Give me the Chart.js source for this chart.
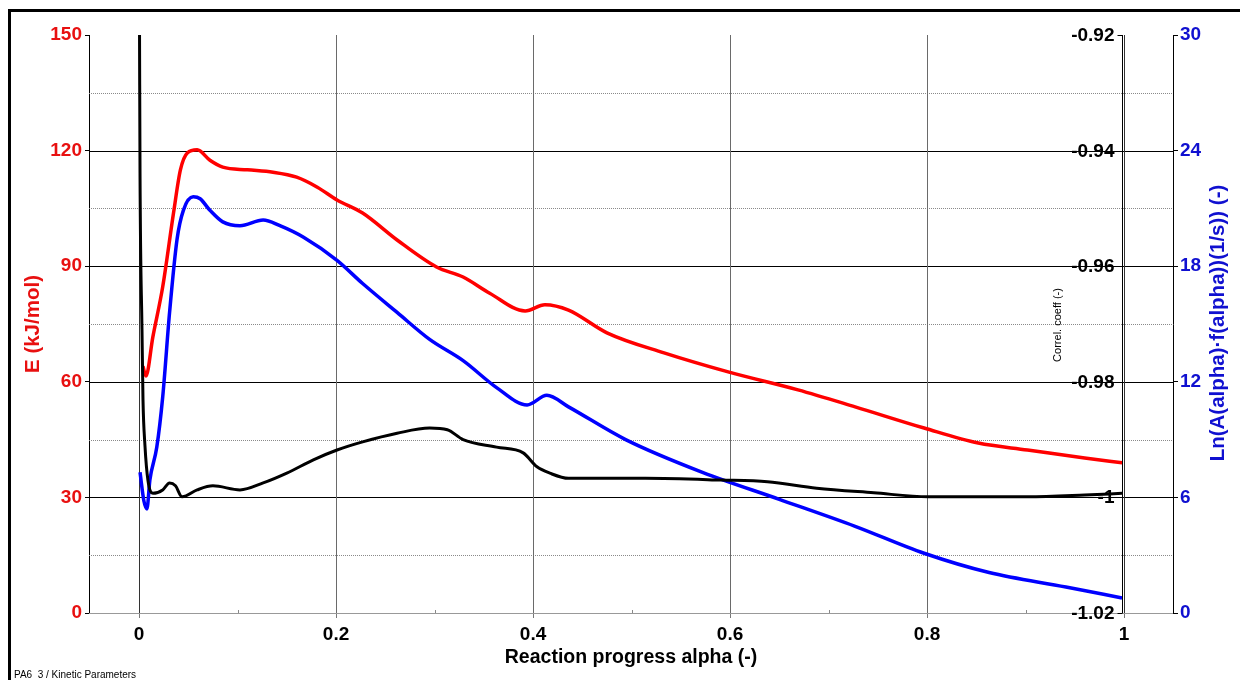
<!DOCTYPE html>
<html>
<head>
<meta charset="utf-8">
<script src="https://cdn.jsdelivr.net/npm/chart.js@4.4.1/dist/chart.umd.min.js"></script>
<style>
  html, body { margin: 0; padding: 0; background: #fff; }
  #wrap { width: 1240px; height: 680px; }
</style>
</head>
<body>
<div id="wrap"><canvas id="kinChart" width="1240" height="680"></canvas></div>
<script>
// values (alpha = reaction progress)
const eAlpha = [0.004, 0.007, 0.014, 0.024, 0.035, 0.042, 0.049, 0.059, 0.072, 0.085, 0.11, 0.136, 0.16, 0.181, 0.201, 0.227, 0.262, 0.302, 0.329, 0.356, 0.392, 0.412, 0.436, 0.475, 0.533, 0.599, 0.669, 0.727, 0.797, 0.852, 0.902, 0.96, 0.998];
const eValues = [64, 61.5, 71.6, 84.6, 103.8, 115, 119.4, 120.2, 117.5, 115.7, 115, 114.4, 113.1, 110.5, 107.2, 103.8, 96.8, 89.8, 87.2, 83, 78.4, 80, 78.6, 72.7, 67.5, 62.5, 57.9, 53.5, 48, 44.1, 42.3, 40.2, 39];

const lnAlpha = [0.001, 0.005, 0.008, 0.011, 0.018, 0.024, 0.031, 0.0386, 0.045, 0.055, 0.062, 0.072, 0.085, 0.1025, 0.126, 0.143, 0.167, 0.201, 0.227, 0.262, 0.295, 0.329, 0.363, 0.394, 0.414, 0.436, 0.494, 0.572, 0.65, 0.727, 0.797, 0.863, 0.941, 0.998];
const lnValues = [7.3, 5.8, 5.4, 6.9, 8.6, 11.2, 15.6, 19.4, 20.9, 21.6, 21.5, 20.9, 20.3, 20.1, 20.4, 20.1, 19.5, 18.3, 17.1, 15.6, 14.2, 13.1, 11.7, 10.8, 11.3, 10.7, 9.0, 7.3, 5.9, 4.5, 3.1, 2.1, 1.35, 0.78];

const corrAlpha = [0.0005, 0.001, 0.003, 0.004, 0.006, 0.009, 0.014, 0.024, 0.031, 0.037, 0.0437, 0.059, 0.075, 0.1025, 0.126, 0.15, 0.177, 0.201, 0.227, 0.262, 0.295, 0.313, 0.329, 0.363, 0.39, 0.404, 0.417, 0.436, 0.514, 0.591, 0.638, 0.688, 0.746, 0.801, 0.902, 0.96, 0.998];
const corrValues = [-0.92, -0.944, -0.971, -0.983, -0.991, -0.997, -0.9993, -0.9987, -0.9975, -0.998, -0.9999, -0.9987, -0.998, -0.9987, -0.9975, -0.9958, -0.9935, -0.9918, -0.9904, -0.9889, -0.988, -0.9883, -0.99, -0.9913, -0.9923, -0.9947, -0.9958, -0.9967, -0.9967, -0.997, -0.9973, -0.9984, -0.9992, -0.9999, -0.9999, -0.9996, -0.9993];

const xTicks = [0, 0.2, 0.4, 0.6, 0.8, 1];
const xMinorTicks = [0.1, 0.3, 0.5, 0.7, 0.9];
const eTicks = [0, 30, 60, 90, 120, 150];
const eHalfTicks = [15, 45, 75, 105, 135];
const lnTicks = [0, 6, 12, 18, 24, 30];
const corrTicks = [-1.02, -1, -0.98, -0.96, -0.94, -0.92];
const corrLabels = ['-1.02', '-1', '-0.98', '-0.96', '-0.94', '-0.92'];

const RED = '#ff0000', RED_TXT = '#e81010', BLUE = '#0000ff', BLUE_TXT = '#1010d0';
const boldFont = { family: 'Arial, "Liberation Sans"', size: 19, weight: 'bold' };

function toPoints(xs, ys) {
    return xs.map((x, i) => ({ x: x, y: ys[i] }));
}

function hline(ctx, x1, x2, y) {
    ctx.beginPath(); ctx.moveTo(x1, y); ctx.lineTo(x2, y); ctx.stroke();
}
function vline(ctx, x, y1, y2) {
    ctx.beginPath(); ctx.moveTo(x, y1); ctx.lineTo(x, y2); ctx.stroke();
}
function rotText(ctx, text, x, y, font, color) {
    ctx.save();
    ctx.translate(x, y);
    ctx.rotate(-Math.PI / 2);
    ctx.font = font;
    ctx.fillStyle = color;
    ctx.textAlign = 'center';
    ctx.textBaseline = 'middle';
    ctx.fillText(text, 0, 0);
    ctx.restore();
}

// grid, correlation axis, titles and frame
const kineticPlot = {
    id: 'kineticPlot',
    beforeDraw(chart) {
        const ctx = chart.ctx;
        ctx.save();
        ctx.fillStyle = '#fff';
        ctx.fillRect(0, 0, chart.width, chart.height);
        ctx.restore();
    },
    beforeDatasetsDraw(chart) {
        const { ctx, chartArea: a, scales } = chart;
        ctx.save();
        ctx.lineWidth = 1;
        // dotted half steps
        ctx.strokeStyle = '#8a8a8a';
        ctx.setLineDash([1, 1]);
        eHalfTicks.forEach(v => hline(ctx, a.left, a.right, Math.round(scales.yE.getPixelForValue(v)) + 0.5));
        ctx.setLineDash([]);
        // solid major lines
        ctx.strokeStyle = '#000';
        eTicks.filter(v => v > 0 && v < 150).forEach(v => hline(ctx, a.left, a.right, Math.round(scales.yE.getPixelForValue(v)) + 0.5));
        ctx.strokeStyle = '#999';
        hline(ctx, a.left, a.right, a.bottom + 0.5);
        // vertical lines
        xTicks.forEach(v => {
            ctx.strokeStyle = (v === 0 || v === 1) ? '#333' : '#6a6a6a';
            vline(ctx, Math.round(scales.x.getPixelForValue(v)) + 0.5, a.top, a.bottom);
        });
        ctx.strokeStyle = '#888';
        xMinorTicks.forEach(v => vline(ctx, Math.round(scales.x.getPixelForValue(v)) + 0.5, a.bottom, a.bottom - 3));
        ctx.restore();
    },
    afterDatasetsDraw(chart) {
        const { ctx, chartArea: a, scales } = chart;
        ctx.save();
        // correlation coefficient axis, sitting just left of alpha = 1
        const ax = Math.round(scales.x.getPixelForValue(1)) - 2 + 0.5;
        ctx.strokeStyle = '#000';
        ctx.lineWidth = 1;
        vline(ctx, ax, a.top, a.bottom);
        ctx.font = 'bold 19px Arial, "Liberation Sans"';
        ctx.fillStyle = '#000';
        ctx.textAlign = 'right';
        ctx.textBaseline = 'middle';
        corrTicks.forEach((v, i) => {
            const y = Math.round(scales.yC.getPixelForValue(v)) + 0.5;
            hline(ctx, ax - 5, ax, y);
            ctx.fillText(corrLabels[i], ax - 8, y);
        });
        ctx.restore();

        rotText(ctx, 'E (kJ/mol)', 33, 324, 'bold 20.5px Arial, "Liberation Sans"', RED_TXT);
        rotText(ctx, 'Ln(A(alpha)\u00b7f(alpha))(1/s)) (-)', 1218, 323, 'bold 20.5px Arial, "Liberation Sans"', BLUE_TXT);
        rotText(ctx, 'Correl. coeff (-)', 1058, 325, '11px Arial, "Liberation Sans"', '#000');

        ctx.save();
        ctx.fillStyle = '#000';
        ctx.font = 'bold 19.5px Arial, "Liberation Sans"';
        ctx.textAlign = 'center';
        ctx.textBaseline = 'middle';
        ctx.fillText('Reaction progress alpha (-)', (a.left + a.right) / 2, 658);
        ctx.font = '10px Arial, "Liberation Sans"';
        ctx.textAlign = 'left';
        ctx.fillText('PA6  3 / Kinetic Parameters', 14, 675);
        // outer frame
        ctx.strokeStyle = '#000';
        ctx.lineWidth = 3;
        ctx.beginPath();
        ctx.moveTo(9.5, chart.height);
        ctx.lineTo(9.5, 10.5);
        ctx.lineTo(chart.width, 10.5);
        ctx.stroke();
        ctx.restore();
    }
};

const ctx = document.getElementById('kinChart').getContext('2d');
const kinChart = new Chart(ctx, {
    type: 'line',
    data: {
        datasets: [{
            label: 'E (kJ/mol)',
            data: toPoints(eAlpha, eValues),
            yAxisID: 'yE',
            borderColor: RED,
            borderWidth: 3.5,
            order: 2
        }, {
            label: 'Ln(A(alpha)·f(alpha))(1/s))',
            data: toPoints(lnAlpha, lnValues),
            yAxisID: 'yL',
            borderColor: BLUE,
            borderWidth: 3.5,
            order: 1
        }, {
            label: 'Correl. coeff',
            data: toPoints(corrAlpha, corrValues),
            yAxisID: 'yC',
            borderColor: '#000',
            borderWidth: 3,
            order: 0
        }]
    },
    options: {
        responsive: false,
        animation: false,
        devicePixelRatio: 1,
        layout: { padding: { top: 35, left: 0, right: 0, bottom: 0 } },
        elements: {
            point: { radius: 0 },
            line: { cubicInterpolationMode: 'monotone', fill: false }
        },
        plugins: {
            legend: { display: false },
            tooltip: { enabled: false },
            title: { display: false }
        },
        scales: {
            x: {
                type: 'linear',
                min: -0.0508,
                max: 1.0497,
                afterBuildTicks: s => { s.ticks = xTicks.map(v => ({ value: v })); },
                afterFit: s => { s.height = 67; },
                grid: { drawOnChartArea: false, drawTicks: true, tickLength: 5, tickColor: '#777' },
                border: { color: '#999' },
                ticks: { padding: 5, color: '#000', font: boldFont, maxRotation: 0, autoSkip: false, callback: v => String(v) }
            },
            yE: {
                type: 'linear',
                position: 'left',
                min: 0,
                max: 150,
                afterBuildTicks: s => { s.ticks = eTicks.map(v => ({ value: v })); },
                afterFit: s => { s.width = 89; },
                grid: { drawOnChartArea: false, drawTicks: true, tickLength: 4, tickColor: '#000' },
                border: { color: '#000' },
                ticks: { padding: 3, color: RED_TXT, font: boldFont }
            },
            yL: {
                type: 'linear',
                position: 'right',
                min: 0,
                max: 30,
                afterBuildTicks: s => { s.ticks = lnTicks.map(v => ({ value: v })); },
                afterFit: s => { s.width = 67; },
                grid: { drawOnChartArea: false, drawTicks: true, tickLength: 5, tickColor: '#000' },
                border: { color: '#000' },
                ticks: { padding: 2, color: BLUE_TXT, font: boldFont }
            },
            yC: {
                type: 'linear',
                display: false,
                min: -1.02,
                max: -0.92
            }
        }
    },
    plugins: [kineticPlot]
});
</script>
</body>
</html>
